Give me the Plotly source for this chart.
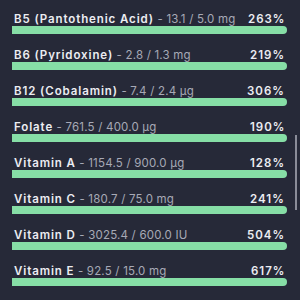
import plotly.graph_objects as go

names = ["B5 (Pantothenic Acid)", "B6 (Pyridoxine)", "B12 (Cobalamin)", "Folate",
         "Vitamin A", "Vitamin C", "Vitamin D", "Vitamin E"]
actual = [13.1, 2.8, 7.4, 761.5, 1154.5, 180.7, 3025.4, 92.5]
target = [5.0, 1.3, 2.4, 400.0, 900.0, 75.0, 600.0, 15.0]
units = ["mg", "mg", "µg", "µg", "µg", "mg", "IU", "mg"]
percent = [263, 219, 306, 190, 128, 241, 504, 617]

BG = "#262938"
BAR = "#86dea6"
TRACK = "#323546"
NAME_C = "#ecedf2"
DETAIL_C = "#a7a9b6"

idx = list(range(len(names)))
fill = [min(p, 100) for p in percent]

row_px = 36.0
first_px = 30
y_top = -first_px / row_px
y_bot = (300 - first_px) / row_px
bar_w = 8 / row_px
label_off = 11 / row_px

fig = go.Figure()
fig.add_trace(go.Bar(orientation="h", x=[100] * len(idx), y=idx, width=bar_w,
                     marker=dict(color=TRACK, line=dict(width=0)), hoverinfo="skip"))
fig.add_trace(go.Bar(orientation="h", x=fill, y=idx, width=bar_w,
                     marker=dict(color=BAR, line=dict(width=0)), hoverinfo="skip"))

annotations = []
for i, n in enumerate(names):
    annotations.append(dict(
        x=0, y=i - label_off, xref="x", yref="y", xanchor="left", yanchor="middle",
        showarrow=False,
        text=(f"<span style='letter-spacing:0.9px'>{n}</span>"
              f"<span style='color:{DETAIL_C};font-weight:400;letter-spacing:0.2px'>"
              f" - {actual[i]:.1f} / {target[i]:.1f} {units[i]}</span>"),
        font=dict(family="Inter", size=11.5, color=NAME_C, weight=600)))
    annotations.append(dict(
        x=100, y=i - label_off, xref="x", yref="y", xanchor="right", yanchor="middle",
        showarrow=False, text=f"<span style='letter-spacing:1px'>{percent[i]}%</span>",
        font=dict(family="Inter", size=11.5, color=NAME_C, weight=600)))

fig.update_layout(
    width=300, height=300, margin=dict(l=0, r=0, t=0, b=0),
    paper_bgcolor=BG, plot_bgcolor=BG, showlegend=False,
    barmode="overlay", barcornerradius=4,
    xaxis=dict(range=[0, 100], domain=[12 / 300, 287 / 300], visible=False, fixedrange=True),
    yaxis=dict(range=[y_bot, y_top], visible=False, fixedrange=True),
    annotations=annotations,
    shapes=[dict(type="line", xref="paper", yref="paper", x0=296 / 300, x1=296 / 300,
                 y0=1 - 135 / 300, y1=1 - 210 / 300, line=dict(color="#8a8c98", width=2))],
)

fig.write_html("out.html", config={"displayModeBar": False})
